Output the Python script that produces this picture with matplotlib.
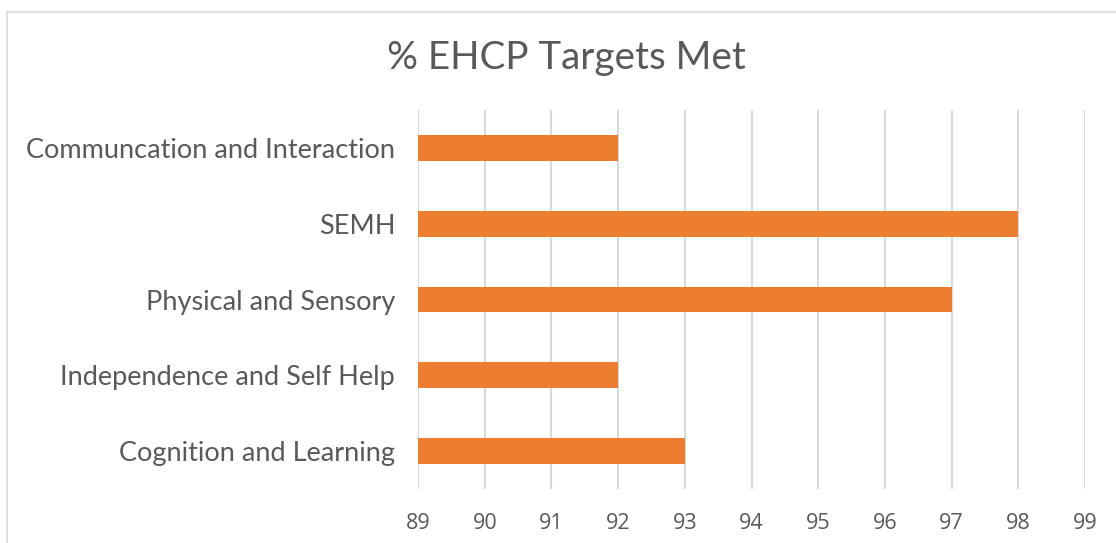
import matplotlib.pyplot as plt
import matplotlib.lines as lines

categories = ['Communcation and Interaction', 'SEMH', 'Physical and Sensory',
              'Independence and Self Help', 'Cognition and Learning']
values = [92, 98, 97, 92, 93]
x_ticks = list(range(89, 100))

fig = plt.figure(figsize=(11.16, 5.43), dpi=100)
ax = fig.add_axes([0.3746, 0.0994, 0.5977, 0.698])

ypos = list(range(len(categories)))
# bars start at the axis minimum (89)
ax.barh(ypos, [v - 89 for v in values], left=89, height=0.34,
        color='#ED7D31', zorder=3)

ax.set_xlim(89, 99)
ax.set_ylim(len(categories) - 0.5, -0.5)
ax.set_xticks(x_ticks)
ax.set_xticklabels([str(t) for t in x_ticks], fontsize=15.5, color='#595959',
                   family='Open Sans')
ax.set_yticks(ypos)
ax.set_yticklabels(categories, fontsize=19.5, color='#595959', family='Lato')
ax.tick_params(axis='both', length=0)
ax.tick_params(axis='x', pad=17)
ax.tick_params(axis='y', pad=16.5)
ax.grid(axis='x', color='#D9D9D9', linewidth=1.5, zorder=0)
for s in ax.spines.values():
    s.set_visible(False)

fig.text(0.508, 0.893, '% EHCP Targets Met', ha='center', va='center',
         fontsize=27.8, color='#595959', family='Lato')

# chart border (top and left visible)
fig.add_artist(lines.Line2D([7/1116, 1.0], [1 - 12/543, 1 - 12/543],
                            color='#D9D9D9', linewidth=1.2))
fig.add_artist(lines.Line2D([7/1116, 7/1116], [1 - 12/543, 0],
                            color='#D9D9D9', linewidth=1.2))

fig.savefig('out.png', dpi=100)
